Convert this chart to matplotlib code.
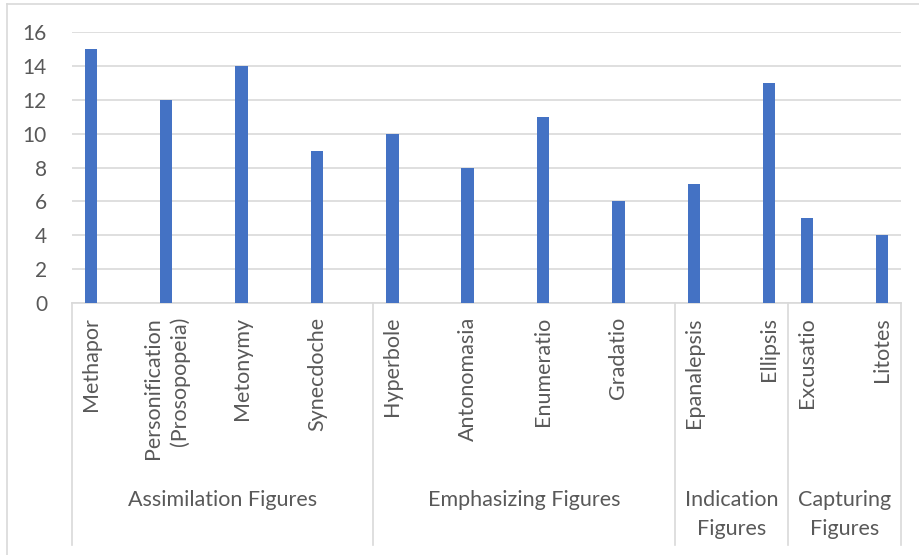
import matplotlib
matplotlib.use('Agg')
import matplotlib.pyplot as plt
import matplotlib.transforms as mtransforms
from matplotlib.lines import Line2D
import numpy as np

plt.rcParams['font.family'] = ['Lato', 'DejaVu Sans']

# Figures of speech, grouped; None marks an empty spacer row in the sheet
groups = ["Assimilation Figures", "Emphasizing Figures",
          "Indication\nFigures", "Capturing\nFigures"]
assimilation = ["Methapor", None, "Personification\n(Prosopopeia)", None,
                "Metonymy", None, "Synecdoche", None]
emphasizing = ["Hyperbole", None, "Antonomasia", None,
               "Enumeratio", None, "Gradatio", None]
indication = ["Epanalepsis", None, "Ellipsis"]
capturing = ["Excusatio", None, "Litotes"]

assimilation_n = [15, None, 12, None, 14, None, 9, None]
emphasizing_n = [10, None, 8, None, 11, None, 6, None]
indication_n = [7, None, 13]
capturing_n = [5, None, 4]

yticks = [0, 2, 4, 6, 8, 10, 12, 14, 16]

names = [assimilation, emphasizing, indication, capturing]
counts = [assimilation_n, emphasizing_n, indication_n, capturing_n]
labels = sum(names, [])
values = sum(counts, [])
pos = np.arange(len(labels))

grey = '#595959'
line = '#d9d9d9'
bar = '#4472c4'

W, H = 920, 555
fig = plt.figure(figsize=(W / 100, H / 100), dpi=100)
ax = fig.add_axes([72 / W, (H - 303) / H, 829 / W, 271 / H])

xs = [p for p, v in zip(pos, values) if v is not None]
ys = [v for v in values if v is not None]
ax.bar(xs, ys, width=0.33, color=bar, zorder=3)

ax.set_xlim(-0.5, len(labels) - 0.5)
ax.set_ylim(0, 16)
ax.set_yticks(yticks)
ax.yaxis.grid(True, color=line, linewidth=1.2, zorder=0)
ax.tick_params(axis='y', length=0, pad=18, labelsize=15, labelcolor=grey)
ax.set_xticks([])
for s in ['top', 'right', 'left']:
    ax.spines[s].set_visible(False)
ax.spines['bottom'].set_color(line)
ax.spines['bottom'].set_linewidth(1.2)

trans = mtransforms.blended_transform_factory(ax.transData, ax.transAxes)

# inner level: figure names, rotated
for p, lab in zip(pos, labels):
    if lab is None:
        continue
    ax.text(p, -14 / 271, lab, transform=trans, rotation=90, ha='center',
            va='top', multialignment='right', fontsize=15.5, color=grey,
            linespacing=1.4)

# outer level: group names and separators
edges = np.cumsum([0] + [len(n) for n in names]) - 0.5
for x in edges:
    ax.add_line(Line2D([x, x], [0, -242 / 271], transform=trans,
                       color=line, linewidth=1.2, clip_on=False))
for g, a, b in zip(groups, edges[:-1], edges[1:]):
    ax.text((a + b) / 2, -187 / 271, g, transform=trans, ha='center',
            va='top', fontsize=15.5, color=grey, linespacing=1.55)

# chart frame
fig.add_artist(Line2D([7.5 / W, 7.5 / W], [0, 1 - 3.5 / H],
                      transform=fig.transFigure, color=line, linewidth=1.2))
fig.add_artist(Line2D([7.5 / W, 1], [1 - 3.5 / H, 1 - 3.5 / H],
                      transform=fig.transFigure, color=line, linewidth=1.2))

fig.savefig('out.png', dpi=100)
plt.close(fig)
